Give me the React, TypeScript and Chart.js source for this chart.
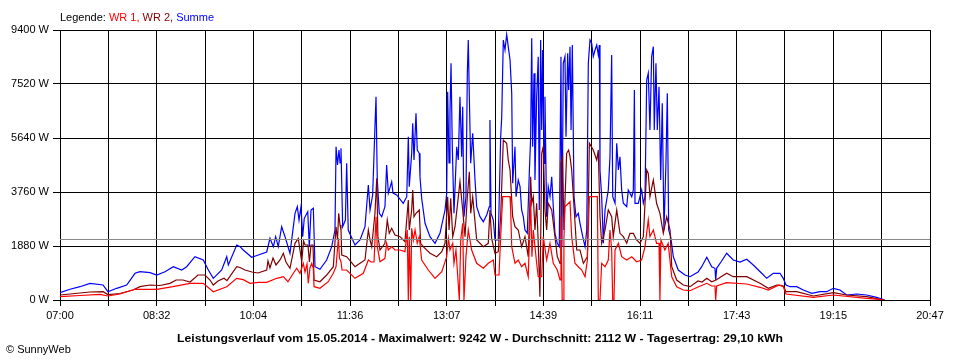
import React, { useEffect, useRef } from 'react';
import { Chart, registerables } from 'chart.js';

Chart.register(...registerables);

// Time axis: minutes after 07:00 (07:00 .. 20:47 = 827 min)
const X_MAX_MIN = 827;
const X_GRID_DIVISIONS = 18;
const X_TICK_LABELS = ['07:00', '08:32', '10:04', '11:36', '13:07', '14:39', '16:11', '17:43', '19:15', '20:47'];
const Y_MAX_W = 9400;
const Y_STEP_W = 1880;
const AVG_W = 2112;

const LEGEND_PARTS: [string, string][] = [
  ['Legende: ', '#000000'],
  ['WR 1, ', '#ff0000'],
  ['WR 2, ', '#800000'],
  ['Summe', '#0000ff'],
];
const FOOTER_TEXT = 'Leistungsverlauf vom 15.05.2014 - Maximalwert: 9242 W - Durchschnitt: 2112 W - Tagesertrag: 29,10 kWh';
const COPYRIGHT_TEXT = '\u00A9 SunnyWeb';

// Summe (blue)
const SUMME_T = [0,9.5,19,28.5,40.9,45.6,53.9,63.4,71.3,76,85.6,91.9,99.8,107.7,115.7,120.4,128.3,136.2,141,145.7,153.7,158.5,160,168,171.1,174.2,182.2,188.5,196.5,199.6,202.8,205,207.5,210.7,213.9,218.6,223.4,225.6,227.2,229.1,230.7,232.2,235.5,237,238.6,240.8,242.4,247.1,253.5,258.3,261.4,262.4,263.8,265.2,266.2,267.1,268.7,271.3,272.5,274,280.4,285.2,289.9,293.1,294.7,297.2,299.4,300.4,301.6,303.5,305.8,308.9,310.5,312.1,315.3,316.5,320,326.3,329.6,331.1,332,334.3,335.3,336.5,338.4,339.6,341.5,342.2,343.8,347,351.7,356.5,361.2,366,367.6,368.5,369.8,370.7,371.7,372.9,374.5,377.1,378.6,380.2,381.8,382.8,384,385.9,387.2,388.1,389.1,390.4,392.3,394.5,396.1,399.2,402.4,405.6,408.1,408.7,409.7,411.9,413.5,416.6,418.9,419.9,420.8,421.4,423,424.6,426.1,427.8,429.4,430.3,432.5,433.5,435.6,437.3,438.8,440.4,442,444.2,446.1,447.4,448.4,449.3,450.6,451.5,453.1,454.6,455.6,456.9,457.9,458.8,460.1,461,462.6,464.1,465.8,467.4,468.9,470.5,472.7,474.6,476.2,477.1,478.4,480,481,482.6,483.5,484.8,485.8,487,488.6,490.5,492.7,494.3,496.9,499.1,500.7,502.2,503.8,505.4,506.9,508.6,510.2,511.7,512.7,513.3,514.9,516.5,518.1,521.2,522.8,524.4,525.4,527.6,529.2,530.8,532.3,533.9,535.5,538.7,540.2,543.5,545,546,546.6,549.7,552.9,554.5,556.1,557.7,559.2,560.8,562.4,564,564.9,566.5,567.8,569.4,571,572.5,574.1,576,577.3,578.6,580.5,583,587.7,594.1,598.9,606.5,610,614.8,619.5,622.6,623.3,624.2,628.3,633.7,640,646.4,652.8,659,667,671.8,678,684.4,687.5,690.1,693.9,700.3,706.6,714.6,722.4,728.8,735.1,741.4,747.8,757.3,766.8,776.3,784.2];
const SUMME_W = [254,373,463,581,522,289,407,522,930,985,950,870,985,1159,1044,1159,1507,1393,1044,755,1044,1507,1219,1915,1856,1741,1487,1567,1671,2148,1856,2204,1856,2552,2204,1626,3018,3248,2785,3248,2204,2844,3074,1856,3133,3193,1159,1069,1393,1856,2437,5337,4700,5222,4770,5281,2552,2785,4759,2437,1915,2089,2552,4004,3133,3656,6033,7078,4178,3018,2900,3248,4700,3715,4119,3725,3656,3367,3597,5685,3945,5107,6152,4874,6500,5222,5107,4293,3541,2670,2204,1974,2322,3133,3715,7252,4770,6500,8241,5337,3018,5337,4874,7078,4989,6730,2900,3597,7895,9052,7078,4759,5804,4178,3248,2900,2726,2959,3248,6267,3018,2785,2089,2089,5685,6382,8007,9052,8704,9242,8819,8356,7196,4063,5337,3597,4178,3945,3133,2900,2437,2322,4411,5685,9110,5337,7895,4178,7078,8472,3133,9052,5919,8704,4759,7078,2900,3945,3597,4293,3248,2322,1974,1856,8472,1856,8241,8472,5685,8589,7311,8819,5919,8878,3597,2900,3018,2670,2204,1856,2437,8241,9052,8937,8472,8704,8878,8530,8878,4526,3597,1974,3133,3830,4989,8530,3597,3367,5456,4526,4989,3830,3367,3248,3830,3597,3830,7311,3367,3367,3830,3367,3597,7659,7895,5919,8472,8819,5919,8241,5919,7426,4178,6848,2437,4759,7196,2437,2204,1507,1044,870,811,975,1159,1487,1159,1104,696,1104,1323,1626,1393,1323,1417,1219,930,755,930,930,755,522,463,463,348,233,289,289,407,348,174,209,174,94,0];

// WR 2 (dark red)
const WR2_T = [0,14.3,28.5,40.9,45.6,57,69.4,76,85.6,95.1,104.6,110.3,116.9,123.6,131.2,137.8,142.6,145.7,150.2,155.9,158.7,168,171.1,175.9,182.5,188.2,196.5,197.7,199.6,202.5,205.3,209.1,212.3,214.8,218.6,223.4,226.5,228.1,229.8,231.5,232.9,235.7,237.1,238.6,240.5,241.5,247.1,253.5,259.8,262.4,263.8,264.9,266.2,267.1,267.8,272.5,280.4,285.2,289.9,293.1,294.7,296.3,299.4,301.1,302.2,304.2,308.9,311.1,313,315.3,318.4,323.2,327.9,331.1,332,334.3,335.3,336.5,338.4,341.5,342.8,345.3,351.7,358.1,362.9,366,368.5,369.8,371.4,373.3,375.5,380.2,382.8,385,387.2,389.1,390.4,392.3,396.1,402.4,407.1,408.7,410.3,413.5,416.6,418.9,421.4,424.6,426.1,427.8,430.3,432.5,435.6,438.8,442,445.1,447.4,448.4,449.9,451.5,453.1,454.6,456.2,457.2,457.9,459.4,461,462.6,464.1,467.4,470.5,472.7,475.3,476.2,477.8,479,481.6,483.5,484.8,486.4,488,491.2,494.3,497.5,501.3,503.2,506.9,510.2,511.7,513.3,514.9,518.1,521.2,524.4,525.9,529.2,532.3,535.5,538.7,541.8,545,548.1,551.3,554.5,557.7,559.2,560.8,564,567.1,570.3,573.5,576.7,579.9,581.5,586.2,592.5,598.9,606.5,610.3,614.8,619.5,623.6,633.7,640,652.8,665.4,673.3,681.3,687.6,690.1,700.3,716.1,735.1,747.8,766.8,779.5,783.3];
const WR2_W = [174,226,279,289,191,226,348,463,522,505,581,696,696,627,870,870,696,522,661,755,672,1159,1131,1044,975,940,1044,1358,1114,1462,1219,1393,1626,1323,1104,1974,2148,1741,1333,2054,1915,1915,1323,1915,1915,696,637,870,1159,2552,2089,3018,2611,2437,1567,1507,1159,1278,1393,2437,2089,1856,3018,4237,2204,1741,1974,2785,2322,2496,2263,2204,2030,3481,2437,3133,3830,2900,3018,3133,1974,1856,1626,1507,1682,1974,3597,2437,3541,2204,2552,4119,3133,2204,3597,4467,3018,3597,2089,1856,1974,3133,2148,1626,1682,2900,5570,5456,4874,4526,2900,2552,2437,1856,2204,1507,4293,3367,3597,2437,3367,1974,115,2900,5107,5337,3133,2437,3367,3133,2204,1507,1278,4759,4989,2437,5107,5222,4989,4526,3597,1741,1741,1278,1507,5456,5222,4874,5222,2900,1974,2437,3133,2900,2204,3133,2322,2204,1974,2322,2322,2089,1974,2204,4526,4411,3597,4178,3367,3018,2322,2900,2437,1159,696,522,463,661,627,755,637,696,930,811,811,581,407,522,487,289,289,139,254,174,115,24,0];

// WR 1 (red)
const WR1_T = [0,19,38,45.6,57,71.3,91.9,107.4,123.6,136.2,145.7,158.5,168,174.2,180.6,188.5,196.5,206,212.3,216.7,221.8,225,228.1,231.3,232.9,234.8,236,237.6,239.3,240.8,241.5,247.1,255,259.8,262.4,264.6,265.7,267.1,268.1,272.5,280.4,288.3,293.1,295.6,298.5,300.4,301.6,304.2,308.9,310.5,312.1,315.3,318.4,323.2,327.9,330.1,331.1,332,333.4,334.3,335.9,337.5,339.6,341.5,343.8,350.1,356.5,362.9,367.6,369.2,370.7,373.3,374.5,376.4,379.6,380.9,382.8,384,385.9,388.1,391.3,396.1,402.4,407.1,411.9,413.5,417.3,418.9,420.8,427.8,428.4,429.4,432.5,435.6,438.8,442,445.1,447.4,448.6,449.9,453.1,454.6,457.9,459.4,462.6,465.8,468.9,472.7,475.3,476.2,477.4,478.4,479,480,484.8,486.4,489.5,492.7,495.9,499.1,501.3,503.2,510.8,511.7,513.3,514.9,518.1,521.2,522.8,524.4,525.4,526.6,527.6,530.8,533.9,538.7,543.5,548.1,552.9,556.1,559.2,560.8,564,567.1,569.4,570.3,571.2,575,578.1,581.5,586.2,592.5,598.9,606.5,614.8,619.5,622.6,623.3,624.2,633.7,652.8,665.4,673.3,683.5,687.6,690.1,716.1,735.1,766.8,779.5,783.3];
const WR1_W = [115,157,198,139,209,373,373,463,581,581,289,463,755,707,581,616,616,755,811,637,930,1104,930,1278,975,1253,581,1114,1278,1104,463,407,637,930,1159,2148,1462,1333,1044,1044,755,930,1393,1323,1323,2900,1856,1333,1452,1974,1741,1856,1741,1741,1682,2437,0,2204,0,2496,2089,2437,1974,2204,1393,1044,755,985,1507,2148,1741,1974,1278,1741,0,2089,2670,0,1507,2437,1741,1278,1104,1278,1393,870,870,2204,3597,3597,3133,1856,1278,1393,1159,1278,811,3481,1507,2437,1278,811,811,2204,1393,1974,1278,1044,696,2900,0,0,2089,3248,3422,2204,1278,1159,1044,811,1393,3597,3597,0,0,1278,1159,1393,2437,1741,0,0,1741,1974,1507,1393,1507,1333,1393,1856,2785,2204,2437,1974,1974,0,2089,1741,1974,811,463,348,324,453,581,487,487,0,487,602,557,442,348,522,463,209,94,174,59,24,0];

const FONT_FAMILY = '"Liberation Sans", Arial, sans-serif';

function toPoints(t: number[], w: number[]) {
  const n = Math.min(t.length, w.length);
  const out: { x: number; y: number }[] = [];
  for (let i = 0; i < n; i++) out.push({ x: t[i], y: w[i] });
  return out;
}

const overlayPlugin = {
  id: 'sunnyOverlay',
  afterDraw(chart: any) {
    const { ctx, chartArea, scales } = chart;
    ctx.save();
    // average line
    const yAvg = Math.round(scales.y.getPixelForValue(AVG_W)) + 0.5;
    ctx.strokeStyle = '#888888';
    ctx.lineWidth = 1;
    ctx.beginPath();
    ctx.moveTo(chartArea.left, yAvg);
    ctx.lineTo(chartArea.right, yAvg);
    ctx.stroke();

    // legend
    ctx.font = `11px ${FONT_FAMILY}`;
    ctx.textBaseline = 'alphabetic';
    ctx.textAlign = 'left';
    let x = 60;
    for (const [txt, col] of LEGEND_PARTS) {
      ctx.fillStyle = col;
      ctx.fillText(txt, x, 20.5);
      x += ctx.measureText(txt).width;
    }

    // footer
    ctx.font = `bold 11px ${FONT_FAMILY}`;
    ctx.fillStyle = '#000';
    const w = ctx.measureText(FOOTER_TEXT).width;
    const target = 606;
    ctx.save();
    ctx.translate(480, 341.5);
    ctx.scale(target / w, 1);
    ctx.textAlign = 'center';
    ctx.fillText(FOOTER_TEXT, 0, 0);
    ctx.restore();

    // copyright
    ctx.font = `11px ${FONT_FAMILY}`;
    ctx.textAlign = 'left';
    ctx.fillStyle = '#000';
    ctx.fillText(COPYRIGHT_TEXT, 6, 353);
    ctx.restore();
  },
};

export default function App() {
  const ref = useRef<HTMLCanvasElement | null>(null);
  useEffect(() => {
    if (!ref.current) return;
    Chart.defaults.font.family = FONT_FAMILY;
    Chart.defaults.font.size = 11;
    Chart.defaults.color = '#000';
    const chart = new Chart(ref.current, {
      type: 'line',
      data: {
        datasets: [
          { label: 'WR 1', data: toPoints(WR1_T, WR1_W), borderColor: '#ff0000', backgroundColor: '#ff0000', order: 0 },
          { label: 'WR 2', data: toPoints(WR2_T, WR2_W), borderColor: '#800000', backgroundColor: '#800000', order: 1 },
          { label: 'Summe', data: toPoints(SUMME_T, SUMME_W), borderColor: '#0000ff', backgroundColor: '#0000ff', order: 2 },
        ],
      },
      options: {
        animation: false,
        responsive: false,
        devicePixelRatio: 1,
        layout: { padding: { left: 0, right: 30, top: 30, bottom: 30 } },
        elements: {
          point: { radius: 0, hoverRadius: 0 },
          line: { borderWidth: 1.2, tension: 0, fill: false },
        },
        plugins: {
          legend: { display: false },
          tooltip: { enabled: false },
          title: { display: false },
        },
        scales: {
          x: {
            type: 'linear',
            min: 0,
            max: X_MAX_MIN,
            z: 1,
            grid: { color: '#000', lineWidth: 1, tickLength: 6, drawTicks: true },
            border: { color: '#000', width: 1 },
            ticks: {
              autoSkip: false,
              maxRotation: 0,
              padding: 3,
              color: '#000',
              font: { size: 11, family: FONT_FAMILY },
              callback: (_v: any, index: number) => (index % 2 === 0 ? X_TICK_LABELS[index / 2] ?? '' : ''),
            },
            afterBuildTicks: (scale: any) => {
              const ticks = [];
              for (let i = 0; i <= X_GRID_DIVISIONS; i++) ticks.push({ value: (i * X_MAX_MIN) / X_GRID_DIVISIONS });
              scale.ticks = ticks;
            },
            afterFit: (scale: any) => {
              scale.height = 30;
            },
          },
          y: {
            min: 0,
            max: Y_MAX_W,
            z: 1,
            grid: { color: '#000', lineWidth: 1, tickLength: 7, drawTicks: true },
            border: { color: '#000', width: 1 },
            ticks: {
              stepSize: Y_STEP_W,
              padding: 4,
              color: '#000',
              font: { size: 11, family: FONT_FAMILY },
              callback: (v: any) => `${v} W`,
            },
            afterFit: (scale: any) => {
              scale.width = 60;
            },
          },
        },
      },
      plugins: [overlayPlugin],
    } as any);
    return () => chart.destroy();
  }, []);
  return (
    <div style={{ position: 'absolute', left: 0, top: 0, width: 960, height: 360, background: '#fff' }}>
      <canvas ref={ref} width={960} height={360} style={{ display: 'block', width: 960, height: 360 }} />
    </div>
  );
}
